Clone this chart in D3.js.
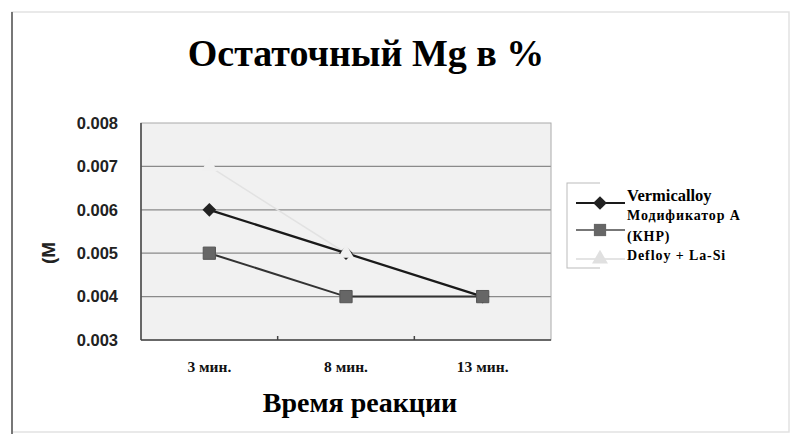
<!DOCTYPE html>
<html>
<head>
<meta charset="utf-8">
<script src="https://cdn.jsdelivr.net/npm/d3@7/dist/d3.min.js"></script>
<style>
  html, body { margin: 0; padding: 0; background: #fff; }
  svg { display: block; }
</style>
</head>
<body>
<svg id="chart" width="792" height="438"></svg>
<script>
// Reaction time categories and residual magnesium per modifier
const categories = ["3 мин.", "8 мин.", "13 мин."];
const vermicalloy = [0.006, 0.005, 0.004];
const modifierA = [0.005, 0.004, 0.004];
const defloy = [0.007, 0.005, 0.004];
const yTicks = [0.003, 0.004, 0.005, 0.006, 0.007, 0.008];
const seriesNames = ["Vermicalloy", "Модификатор А", "(КНР)", "Defloy + La-Si"];

const svg = d3.select("#chart");
const serif = "'Liberation Serif', 'DejaVu Serif', serif";
const sans = "'Liberation Sans', Arial, sans-serif";

// outer frame
svg.append("rect").attr("x", 12).attr("y", 12).attr("width", 777).attr("height", 420)
  .attr("fill", "none").attr("stroke", "#e2e2e2").attr("stroke-width", 1.5);
svg.append("line").attr("x1", 12).attr("x2", 12).attr("y1", 12).attr("y2", 434)
  .attr("stroke", "#777").attr("stroke-width", 2);

const plot = { left: 141, right: 551, top: 123, bottom: 340 };

const x = d3.scaleBand().domain(categories).range([plot.left, plot.right]);
const y = d3.scaleLinear().domain([0.003, 0.008]).range([plot.bottom, plot.top]);

// plot area background
svg.append("rect").attr("x", plot.left).attr("y", plot.top)
  .attr("width", plot.right - plot.left).attr("height", plot.bottom - plot.top)
  .attr("fill", "#f1f1f1");

// horizontal gridlines
svg.append("g").selectAll("line").data(yTicks.slice(1, -1)).join("line")
  .attr("x1", plot.left).attr("x2", plot.right)
  .attr("y1", d => y(d)).attr("y2", d => y(d))
  .attr("stroke", "#8a8a8a").attr("stroke-width", 1.3);

// plot border
svg.append("rect").attr("x", plot.left).attr("y", plot.top)
  .attr("width", plot.right - plot.left).attr("height", plot.bottom - plot.top)
  .attr("fill", "none").attr("stroke", "#aaa").attr("stroke-width", 1);
svg.append("line").attr("x1", plot.left).attr("x2", plot.left)
  .attr("y1", plot.top).attr("y2", plot.bottom).attr("stroke", "#444").attr("stroke-width", 1.5);
svg.append("line").attr("x1", plot.left).attr("x2", plot.right)
  .attr("y1", plot.bottom).attr("y2", plot.bottom).attr("stroke", "#444").attr("stroke-width", 1.5);

// y axis
const yAxis = svg.append("g").attr("transform", `translate(${plot.left},0)`)
  .call(d3.axisLeft(y).tickValues(yTicks).tickFormat(d3.format(".3f")).tickSize(0).tickPadding(23));
yAxis.select(".domain").remove();
yAxis.selectAll("text").attr("font-family", sans).attr("font-size", 16.5)
  .attr("fill", "#222").attr("font-weight", "bold");

// x axis: tick marks on band boundaries, labels at band centres
const boundaries = categories.slice(1).map(c => x(c));
svg.append("g").selectAll("line").data(boundaries).join("line")
  .attr("x1", d => d).attr("x2", d => d)
  .attr("y1", plot.bottom).attr("y2", plot.bottom - 4)
  .attr("stroke", "#444").attr("stroke-width", 1.5);
const xAxis = svg.append("g").attr("transform", `translate(0,${plot.bottom})`)
  .call(d3.axisBottom(x).tickSize(0).tickPadding(21));
xAxis.select(".domain").remove();
xAxis.selectAll("text").attr("font-family", serif).attr("font-size", 15.5)
  .attr("font-weight", "bold").attr("fill", "#111");

// titles
svg.append("text").attr("x", 366).attr("y", 66).attr("text-anchor", "middle")
  .attr("font-family", serif).attr("font-size", 38).attr("font-weight", "bold")
  .attr("fill", "#000").text("Остаточный Mg в %");
svg.append("text").attr("x", 360).attr("y", 412).attr("text-anchor", "middle")
  .attr("font-family", serif).attr("font-size", 28).attr("font-weight", "bold")
  .attr("fill", "#000").text("Время реакции");
svg.append("text").attr("transform", "translate(55,253) rotate(-90)")
  .attr("text-anchor", "middle").attr("font-family", sans).attr("font-size", 19)
  .attr("font-weight", "bold").attr("fill", "#222").text("(M");

const cx = d => x(d) + x.bandwidth() / 2;
const line = d3.line().x((v, i) => cx(categories[i])).y(v => y(v));

// series lines
svg.append("path").datum(defloy).attr("d", line)
  .attr("fill", "none").attr("stroke", "#e2e2e2").attr("stroke-width", 1.5);
svg.append("path").datum(modifierA).attr("d", line)
  .attr("fill", "none").attr("stroke", "#333").attr("stroke-width", 2);
svg.append("path").datum(vermicalloy).attr("d", line)
  .attr("fill", "none").attr("stroke", "#1a1a1a").attr("stroke-width", 2.3);

// markers
const diamond = d3.symbol().type(d3.symbolDiamond2).size(120);
const square = d3.symbol().type(d3.symbolSquare).size(150);
const triangle = d3.symbol().type(d3.symbolTriangle).size(110);

svg.append("g").selectAll("path").data(vermicalloy).join("path")
  .attr("d", diamond)
  .attr("transform", (v, i) => `translate(${cx(categories[i])},${y(v)})`)
  .attr("fill", "#222");
svg.append("g").selectAll("path").data(defloy).join("path")
  .attr("d", triangle)
  .attr("transform", (v, i) => `translate(${cx(categories[i])},${y(v)})`)
  .attr("fill", "#f0f0f0");
svg.append("g").selectAll("path").data(modifierA).join("path")
  .attr("d", square)
  .attr("transform", (v, i) => `translate(${cx(categories[i])},${y(v)})`)
  .attr("fill", "#666").attr("stroke", "#555");

// legend
const lg = svg.append("g");
lg.append("rect").attr("x", 567).attr("y", 183).attr("width", 60).attr("height", 85)
  .attr("fill", "#fff").attr("stroke", "#bbb");
lg.append("rect").attr("x", 600).attr("y", 182).attr("width", 28).attr("height", 88)
  .attr("fill", "#fff");
const legendRows = [
  { yPos: 203, color: "#1a1a1a", sym: diamond, fill: "#222" },
  { yPos: 230, color: "#777", sym: square, fill: "#666" },
  { yPos: 259, color: "#e4e4e4", sym: triangle, fill: "#e0e0e0" }
];
legendRows.forEach(r => {
  lg.append("line").attr("x1", 576).attr("x2", 625).attr("y1", r.yPos).attr("y2", r.yPos)
    .attr("stroke", r.color).attr("stroke-width", 2);
  lg.append("path").attr("d", r.sym)
    .attr("transform", `translate(600,${r.yPos})`).attr("fill", r.fill);
});
const legendText = [
  { t: seriesNames[0], yPos: 201, size: 16.5, ls: 0 },
  { t: seriesNames[1], yPos: 220, size: 14, ls: 0.9 },
  { t: seriesNames[2], yPos: 241, size: 14, ls: 0.9 },
  { t: seriesNames[3], yPos: 260, size: 14, ls: 0.9 }
];
lg.selectAll("text.lt").data(legendText).join("text").attr("class", "lt")
  .attr("x", 627).attr("y", d => d.yPos)
  .attr("font-family", serif).attr("font-weight", "bold").attr("font-size", d => d.size)
  .attr("letter-spacing", d => d.ls)
  .attr("fill", "#000").text(d => d.t);
</script>
</body>
</html>
